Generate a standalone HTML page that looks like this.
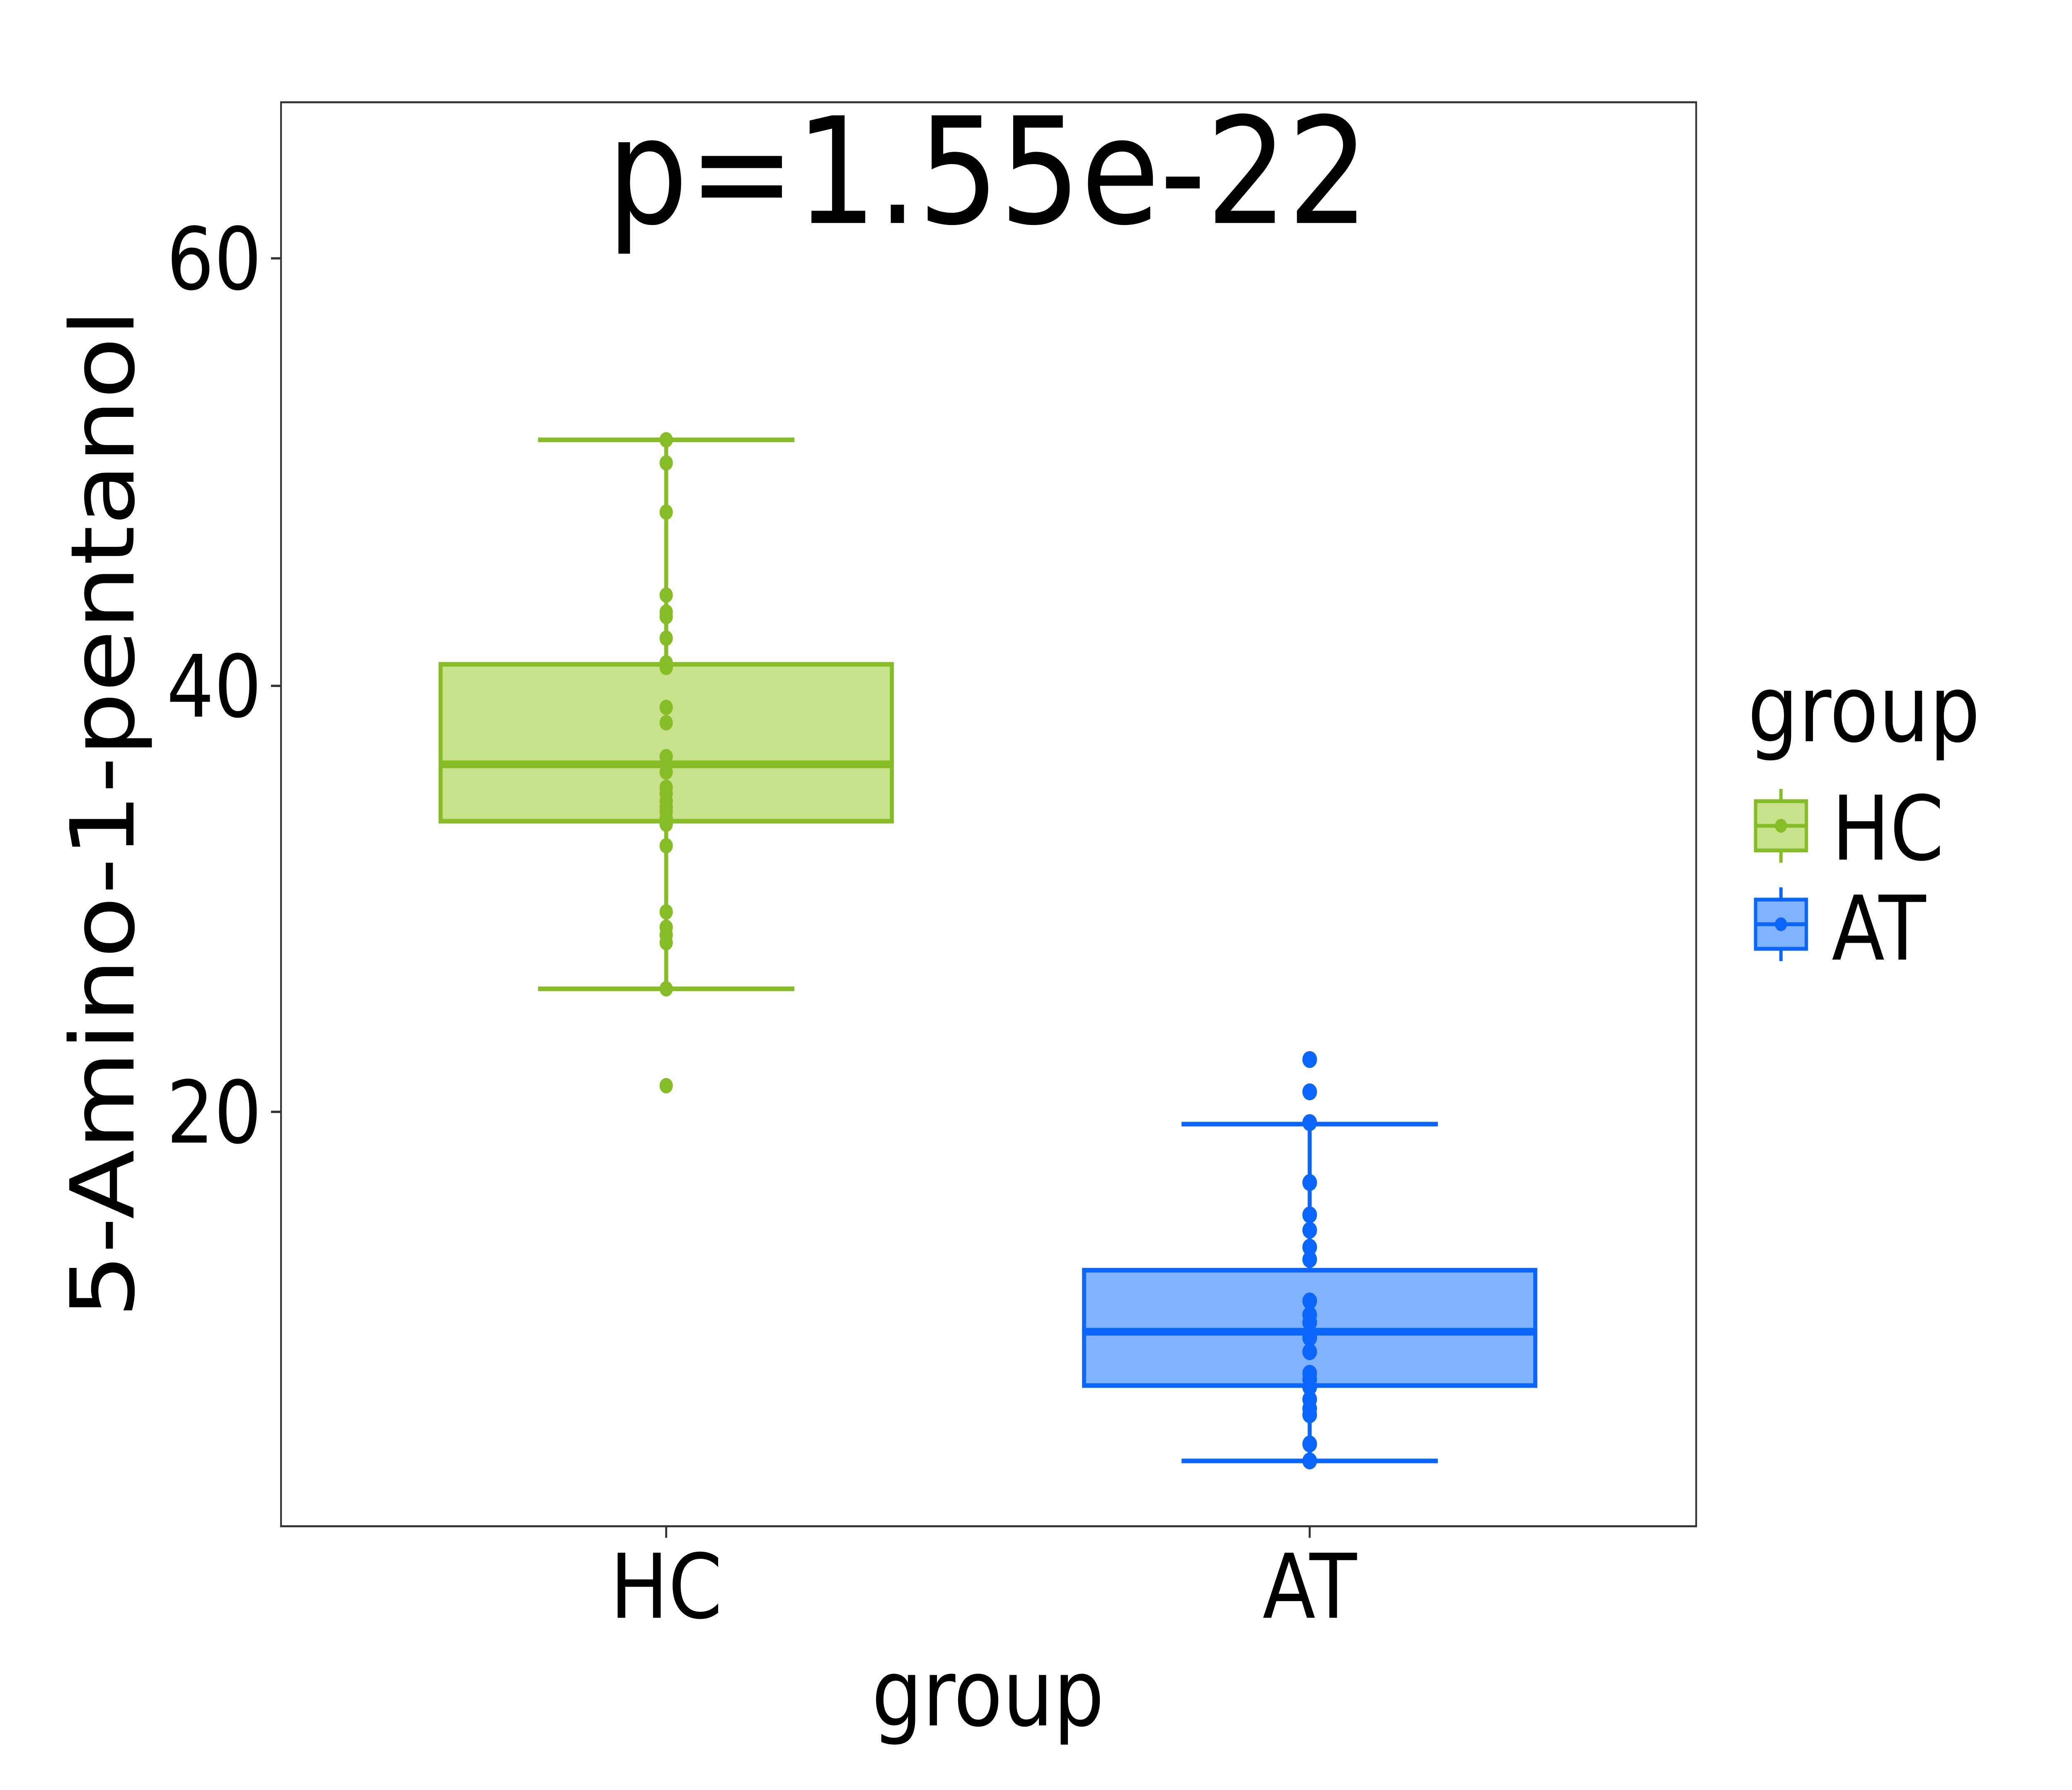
<!DOCTYPE html>
<html><head><meta charset="utf-8"><style>
html,body{margin:0;padding:0;background:#fff;width:100%;height:100%;overflow:hidden;}
svg{display:block;position:fixed;left:0;top:0;width:100vw;height:100vh;}
text{font-family:"DejaVu Sans","Liberation Sans",sans-serif;fill:#000;}
</style></head><body>
<svg viewBox="0 0 1552 1164" preserveAspectRatio="none" xmlns="http://www.w3.org/2000/svg">
<rect x="0" y="0" width="1552" height="1164" fill="#fff"/>
<rect x="210.5" y="66.5" width="1060" height="926" fill="none" stroke="#333" stroke-width="1.3"/>
<g stroke="#333" stroke-width="1.5">
<line x1="203" y1="168" x2="210" y2="168"/><line x1="203" y1="446" x2="210" y2="446"/><line x1="203" y1="723" x2="210" y2="723"/>
<line x1="499" y1="993" x2="499" y2="1000"/><line x1="981" y1="993" x2="981" y2="1000"/>
</g>
<g font-size="56" text-anchor="end">
<text x="196" y="188">60</text><text x="196" y="466">40</text><text x="196" y="743">20</text>
</g>
<g font-size="58" text-anchor="middle">
<text x="499" y="1052">HC</text><text x="981" y="1052">AT</text>
<text x="740" y="1122" font-size="60">group</text>
<text x="740" y="145" font-size="96">p=1.55e-22</text>
</g>
<text transform="translate(100,529) rotate(-90)" font-size="66" text-anchor="middle">5-Amino-1-pentanol</text>
<g stroke="#86bc25" stroke-width="3" fill="#86bc25">
<line x1="403" y1="286" x2="595" y2="286"/><line x1="403" y1="643" x2="595" y2="643"/>
<line x1="499" y1="286" x2="499" y2="432"/><line x1="499" y1="534" x2="499" y2="643"/>
<rect x="330" y="432" width="338" height="102" fill="#c8e28c"/>
<line x1="330" y1="497" x2="668" y2="497" stroke-width="5"/>
</g>
<g fill="#86bc25">
<circle cx="499" cy="286" r="5"/><circle cx="499" cy="301" r="5"/><circle cx="499" cy="333" r="5"/><circle cx="499" cy="387" r="5"/><circle cx="499" cy="398" r="5"/><circle cx="499" cy="401" r="5"/><circle cx="499" cy="415" r="5"/><circle cx="499" cy="431" r="5"/><circle cx="499" cy="434" r="5"/><circle cx="499" cy="460" r="5"/><circle cx="499" cy="470" r="5"/><circle cx="499" cy="492" r="5"/><circle cx="499" cy="502" r="5"/><circle cx="499" cy="512" r="5"/><circle cx="499" cy="516" r="5"/><circle cx="499" cy="521" r="5"/><circle cx="499" cy="525" r="5"/><circle cx="499" cy="528" r="5"/><circle cx="499" cy="532" r="5"/><circle cx="499" cy="536" r="5"/><circle cx="499" cy="550" r="5"/><circle cx="499" cy="593" r="5"/><circle cx="499" cy="603" r="5"/><circle cx="499" cy="608" r="5"/><circle cx="499" cy="613" r="5"/><circle cx="499" cy="643" r="5"/><circle cx="499" cy="706" r="5"/>
</g>
<g stroke="#0a66ff" stroke-width="3" fill="#0a66ff">
<line x1="885" y1="731" x2="1077" y2="731"/><line x1="885" y1="950" x2="1077" y2="950"/>
<line x1="981" y1="731" x2="981" y2="826"/><line x1="981" y1="901" x2="981" y2="950"/>
<rect x="812" y="826" width="338" height="75" fill="#80b2ff"/>
<line x1="812" y1="866" x2="1150" y2="866" stroke-width="5"/>
</g>
<g fill="#0a66ff">
<circle cx="981" cy="689" r="5.5"/><circle cx="981" cy="710" r="5.5"/><circle cx="981" cy="730" r="5.5"/><circle cx="981" cy="769" r="5.5"/><circle cx="981" cy="790" r="5.5"/><circle cx="981" cy="800" r="5.5"/><circle cx="981" cy="811" r="5.5"/><circle cx="981" cy="819" r="5.5"/><circle cx="981" cy="846" r="5.5"/><circle cx="981" cy="855" r="5.5"/><circle cx="981" cy="860" r="5.5"/><circle cx="981" cy="870" r="5.5"/><circle cx="981" cy="879" r="5.5"/><circle cx="981" cy="893" r="5.5"/><circle cx="981" cy="897" r="5.5"/><circle cx="981" cy="902" r="5.5"/><circle cx="981" cy="910" r="5.5"/><circle cx="981" cy="916" r="5.5"/><circle cx="981" cy="920" r="5.5"/><circle cx="981" cy="939" r="5.5"/><circle cx="981" cy="950" r="5.5"/>
</g>
<text x="1309" y="482" font-size="60">group</text>
<g stroke="#86bc25" stroke-width="2.5">
<line x1="1334" y1="513" x2="1334" y2="561"/>
<rect x="1315" y="521" width="38" height="32" fill="#c8e28c"/>
<line x1="1315" y1="537" x2="1353" y2="537"/>
</g>
<circle cx="1334" cy="537" r="4.5" fill="#86bc25"/>
<g stroke="#0a66ff" stroke-width="2.5">
<line x1="1334" y1="577" x2="1334" y2="625"/>
<rect x="1315" y="585" width="38" height="32" fill="#80b2ff"/>
<line x1="1315" y1="601" x2="1353" y2="601"/>
</g>
<circle cx="1334" cy="601" r="4.5" fill="#0a66ff"/>
<text x="1372" y="559" font-size="58">HC</text>
<text x="1372" y="624" font-size="58">AT</text>
</svg>
</body></html>
